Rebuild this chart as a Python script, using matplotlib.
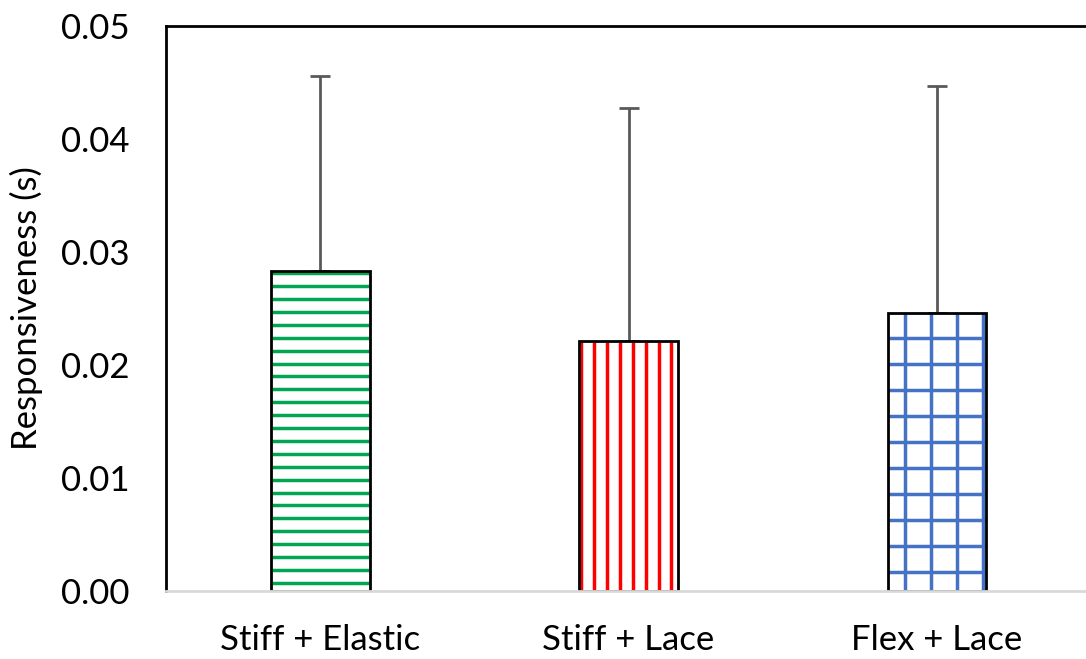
import matplotlib
matplotlib.use("Agg")
import matplotlib.pyplot as plt
import numpy as np

categories = ["Stiff + Elastic", "Stiff + Lace", "Flex + Lace"]
means = [0.0283, 0.0221, 0.0246]
errors = [0.0173, 0.0206, 0.0201]
hatch_colors = ["#00A651", "#FF0000", "#4472C4"]
y_ticks = [0.00, 0.01, 0.02, 0.03, 0.04, 0.05]

plt.rcParams['font.family'] = ['Lato', 'DejaVu Sans']

fig = plt.figure(figsize=(10.86, 6.59), dpi=100)
ax = fig.add_axes([166 / 1086, 68 / 659, 925 / 1086, 565 / 659])

x = np.arange(len(categories))
bars = ax.bar(x, means, width=0.32, color="white", edgecolor="none", zorder=2)
ax.bar(x, means, width=0.32, fill=False, edgecolor="black", linewidth=2, zorder=3)
ax.errorbar(x, means, yerr=[np.zeros(len(means)), errors], fmt="none",
            ecolor="#595959", elinewidth=2, capsize=7.5, capthick=2, zorder=1.5)

ax.set_xlim(-0.5, 2.5)
ax.set_ylim(0, 0.05)

# hatch spacing in pixels -> data units
px_x = 3 / 925
px_y = 0.05 / 565
hatch_lw = 2.5


def hatch_lines(bar, color, horiz=None, vert=None):
    x0, y0 = bar.get_x(), bar.get_y()
    w, h = bar.get_width(), bar.get_height()
    if horiz:
        ys = np.arange(y0 + h - 2 * px_y, y0, -horiz * px_y)
        ax.hlines(ys, x0, x0 + w, colors=color, linewidth=hatch_lw, zorder=2.5)
    if vert:
        xs = np.arange(x0 + 2 * px_x, x0 + w, vert * px_x)
        ax.vlines(xs, y0, y0 + h, colors=color, linewidth=hatch_lw, zorder=2.5)


hatch_lines(bars[0], hatch_colors[0], horiz=12.9)
hatch_lines(bars[1], hatch_colors[1], vert=12.9)
# blue grid
b = bars[2]
xs = np.arange(b.get_x() + 17 * px_x, b.get_x() + b.get_width(), 26 * px_x)
ax.vlines(xs, 0, b.get_height(), colors=hatch_colors[2], linewidth=hatch_lw, zorder=2.5)
ys = np.arange(b.get_height() - 24.5 * px_y, 0, -26 * px_y)
ax.hlines(ys, b.get_x(), b.get_x() + b.get_width(), colors=hatch_colors[2],
          linewidth=hatch_lw, zorder=2.5)

ax.set_yticks(y_ticks)
ax.set_yticklabels([f"{v:.2f}" for v in y_ticks], fontsize=25)
ax.set_xticks(x)
ax.set_xticklabels(categories, fontsize=25)
ax.tick_params(axis="both", length=0)
ax.tick_params(axis="y", pad=26)
ax.tick_params(axis="x", pad=24)
ax.set_ylabel("Responsiveness (s)", fontsize=25, labelpad=13)

ax.spines["right"].set_visible(False)
ax.spines["left"].set_linewidth(2)
ax.spines["top"].set_linewidth(2)
ax.spines["bottom"].set_color("#D9D9D9")
ax.spines["bottom"].set_linewidth(2)
ax.spines["bottom"].set_zorder(4)

fig.savefig("out.png", dpi=100)
